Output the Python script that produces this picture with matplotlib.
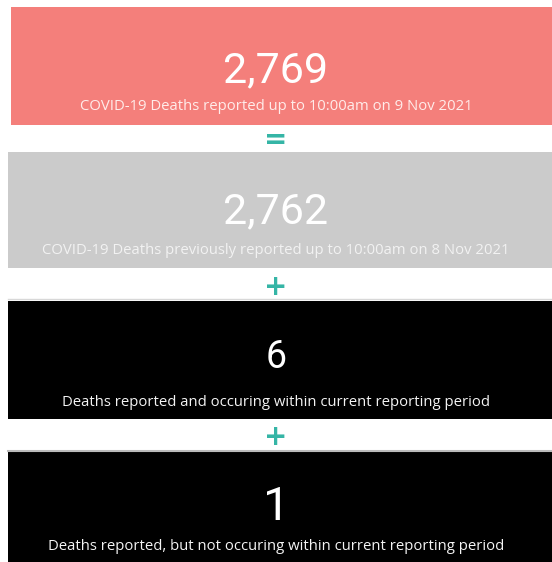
import matplotlib
matplotlib.use("Agg")
from matplotlib import pyplot as plt
from matplotlib.patches import Rectangle

# card contents
values = ["2,769", "2,762", "6", "1"]
captions = [
    "COVID-19 Deaths reported up to 10:00am on 9 Nov 2021",
    "COVID-19 Deaths previously reported up to 10:00am on 8 Nov 2021",
    "Deaths reported and occuring within current reporting period",
    "Deaths reported, but not occuring within current reporting period",
]
operators = ["=", "+", "+"]

# card layout (pixels, top/bottom/left) and look
card_top = [7, 152, 301, 452]
card_bottom = [125, 268, 419, 575]
card_left = [11, 8, 8, 8]
card_color = ["#f47f7b", "#cbcbcb", "#000000", "#000000"]
caption_color = ["#ffecea", "#f2f2f2", "#f4f4f4", "#f4f4f4"]
value_base = [82, 223, 368, 520]
value_size = [31, 31, 27, 34]
caption_y = [107, 251, 402, 547]
op_y = [140, 287, 437]
teal = "#35b5a6"

W, H = 552, 562
fig = plt.figure(figsize=(W / 100, H / 100), dpi=100)
ax = fig.add_axes([0, 0, 1, 1])
ax.set_xlim(0, W)
ax.set_ylim(H, 0)
ax.axis("off")

for i in range(len(values)):
    ax.add_patch(Rectangle((card_left[i], card_top[i]), W - card_left[i],
                           card_bottom[i] - card_top[i], color=card_color[i], lw=0))
    ax.text(W / 2, value_base[i], values[i], ha="center", va="baseline",
            fontsize=value_size[i], color="white", family=["Roboto", "DejaVu Sans"])
    ax.text(W / 2, caption_y[i], captions[i], ha="center", va="center",
            fontsize=10.7, color=caption_color[i], family="Open Sans")

for j, op in enumerate(operators):
    ax.text(W / 2, op_y[j], op, ha="center", va="center", fontsize=20,
            color=teal, fontweight="bold", family="DejaVu Sans")

# thin separator lines above the black cards
ax.plot([8, W], [299, 299], color="#d8d8d8", lw=1)
ax.plot([8, W], [451, 451], color="#bbbbbb", lw=1.5)

fig.savefig("out.png", dpi=100)
